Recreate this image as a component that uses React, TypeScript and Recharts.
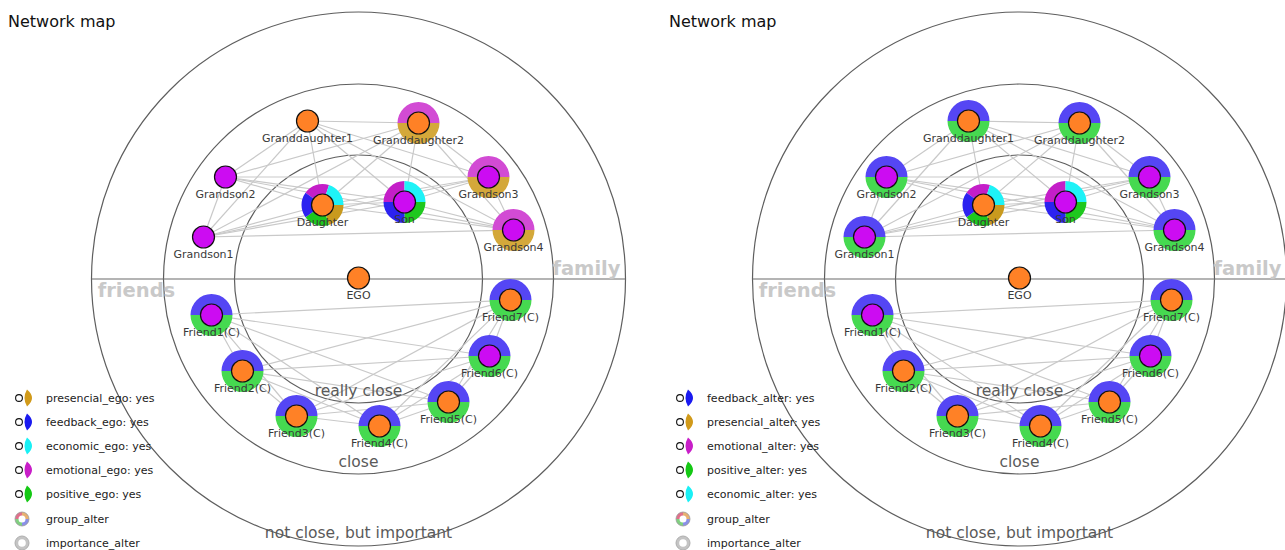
import React from 'react';
import { ScatterChart, Scatter, XAxis, YAxis } from 'recharts';

// map units: EGO at (0,0), y up
const CHART_W = 662;
const CHART_H = 550;
const X_DOMAIN: [number, number] = [-358.5, 303.5];
const Y_DOMAIN: [number, number] = [-271, 279];
const PX = CHART_W / (X_DOMAIN[1] - X_DOMAIN[0]);

const ORANGE = '#ff8126';
const PURPLE = '#cc0cf2';

const RING_BLUE = '#5546f4';
const RING_GREEN = '#46d950';
const RING_PINK = '#d24bd4';
const RING_GOLD = '#d4a83a';

const SEG_PINK = '#c41ec8';
const SEG_CYAN = '#1ef2f7';
const SEG_GOLD = '#c99a1e';
const SEG_GREEN = '#1ec81e';
const SEG_BLUE = '#2c22f0';

const nodeNames = ['EGO', 'Granddaughter1', 'Granddaughter2', 'Grandson2', 'Grandson3', 'Grandson1', 'Grandson4', 'Daughter', 'Son',
  'Friend1(C)', 'Friend2(C)', 'Friend3(C)', 'Friend4(C)', 'Friend5(C)', 'Friend6(C)', 'Friend7(C)'];
const nodeX = [0, -51, 60, -133, 130, -155, 155, -36, 46, -147, -116, -62, 21, 90, 131, 152];
const nodeY = [1, 158, 156, 102, 102, 42, 49, 74, 77, -36, -92, -137, -147, -123, -77, -21];
const nodeCore = [ORANGE, ORANGE, ORANGE, PURPLE, PURPLE, PURPLE, PURPLE, ORANGE, PURPLE,
  PURPLE, ORANGE, ORANGE, ORANGE, ORANGE, PURPLE, ORANGE];

const familyGroup = [1, 2, 3, 4, 5, 6, 7, 8];
const friendsGroup = [9, 10, 11, 12, 13, 14, 15];

const pinkGold = { start: -90, colors: [RING_PINK, RING_GOLD] };
const blueGreen = { start: -90, colors: [RING_BLUE, RING_GREEN] };
const daughterRing = { start: -54, colors: [SEG_PINK, SEG_CYAN, SEG_GOLD, SEG_GREEN, SEG_BLUE] };
const sonRing = { start: -90, colors: [SEG_PINK, SEG_CYAN, SEG_GREEN, SEG_BLUE] };

const leftRings = [null, null, pinkGold, null, pinkGold, null, pinkGold, daughterRing, sonRing,
  blueGreen, blueGreen, blueGreen, blueGreen, blueGreen, blueGreen, blueGreen];
const rightRings = [null, blueGreen, blueGreen, blueGreen, blueGreen, blueGreen, blueGreen, daughterRing, sonRing,
  blueGreen, blueGreen, blueGreen, blueGreen, blueGreen, blueGreen, blueGreen];

const ringRadii = [124, 195, 267];
const ringLabels = ['really close', 'close', 'not close, but important'];
const ringLabelY = [-112, -183, -254];

const zoneLabels = ['family', 'friends'];
const zoneX = [228, -222];
const zoneY = [11, -11];

const leftLegend = [
  { label: 'presencial_ego: yes', color: '#d19a1a' },
  { label: 'feedback_ego: yes', color: '#1a1af0' },
  { label: 'economic_ego: yes', color: '#19f0f5' },
  { label: 'emotional_ego: yes', color: '#c81ec8' },
  { label: 'positive_ego: yes', color: '#14c814' },
];
const rightLegend = [
  { label: 'feedback_alter: yes', color: '#1a1af0' },
  { label: 'presencial_alter: yes', color: '#d19a1a' },
  { label: 'emotional_alter: yes', color: '#c81ec8' },
  { label: 'positive_alter: yes', color: '#14c814' },
  { label: 'economic_alter: yes', color: '#19f0f5' },
];

const FONT = '"DejaVu Sans", sans-serif';

function pt(cx: number, cy: number, r: number, a: number) {
  const rad = (a * Math.PI) / 180;
  return [cx + r * Math.sin(rad), cy - r * Math.cos(rad)];
}

function arcPath(cx: number, cy: number, r0: number, r1: number, a0: number, a1: number) {
  const [x1, y1] = pt(cx, cy, r1, a0);
  const [x2, y2] = pt(cx, cy, r1, a1);
  const [x3, y3] = pt(cx, cy, r0, a1);
  const [x4, y4] = pt(cx, cy, r0, a0);
  const large = a1 - a0 > 180 ? 1 : 0;
  return `M${x1},${y1} A${r1},${r1} 0 ${large} 1 ${x2},${y2} L${x3},${y3} A${r0},${r0} 0 ${large} 0 ${x4},${y4} Z`;
}

const NodeShape = (props: any) => {
  const { cx, cy, payload } = props;
  const ring = payload.ring;
  return (
    <g>
      {ring &&
        ring.colors.map((c: string, i: number) => {
          const span = 360 / ring.colors.length;
          const a0 = ring.start + i * span;
          return <path key={i} d={arcPath(cx, cy, 9, 21, a0, a0 + span)} fill={c} />;
        })}
      <circle cx={cx} cy={cy} r={11} fill={payload.core} stroke="#111" strokeWidth={1.2} />
      <text x={cx} y={cy + 17.5} textAnchor="middle" dominantBaseline="central" fontSize={11} fill="#3a3a3a" fontFamily={FONT}>
        {payload.name}
      </text>
    </g>
  );
};

const RingShape = (props: any) => {
  const { cx, cy, payload } = props;
  return <circle cx={cx} cy={cy} r={payload.r * PX} fill="none" stroke="#5e5e5e" strokeWidth={1.2} />;
};

const RingLabelShape = (props: any) => {
  const { cx, cy, payload } = props;
  return (
    <text x={cx} y={cy} textAnchor="middle" dominantBaseline="central" fontSize={15.5} fill="#5a5a5a" fontFamily={FONT}>
      {payload.label}
    </text>
  );
};

const ZoneLabelShape = (props: any) => {
  const { cx, cy, payload } = props;
  return (
    <text x={cx} y={cy} textAnchor="middle" dominantBaseline="central" fontSize={19.5} fontWeight="bold" fill="#c9c9c9" fontFamily={FONT}>
      {payload.label}
    </text>
  );
};

const NoShape = () => <g />;

function buildEdges() {
  const out: { key: string; pts: { x: number; y: number }[] }[] = [];
  [familyGroup, friendsGroup].forEach((g) => {
    for (let i = 0; i < g.length; i++) {
      for (let j = i + 1; j < g.length; j++) {
        const a = g[i];
        const b = g[j];
        out.push({ key: `${a}-${b}`, pts: [{ x: nodeX[a], y: nodeY[a] }, { x: nodeX[b], y: nodeY[b] }] });
      }
    }
  });
  return out;
}

function Legend({ items }: { items: { label: string; color: string }[] }) {
  const rows = items.map((it, i) => ({ ...it, y: 398 + i * 24 }));
  return (
    <svg width={220} height={CHART_H} style={{ position: 'absolute', left: 0, top: 0, pointerEvents: 'none' }}>
      <text x={8} y={27} fontSize={16} fill="#111" fontFamily={FONT}>Network map</text>
      {rows.map((r) => (
        <g key={r.label}>
          <path d={`M27,${r.y - 8.5} Q37,${r.y} 27,${r.y + 8.5} Q22,${r.y} 27,${r.y - 8.5} Z`} fill={r.color} />
          <circle cx={19} cy={r.y} r={3.4} fill="#fff" stroke="#111" strokeWidth={1.1} />
          <text x={46} y={r.y} dominantBaseline="central" fontSize={11} fill="#222" fontFamily={FONT}>{r.label}</text>
        </g>
      ))}
      <g>
        <path d={arcPath(22, 519, 3.5, 7, -90, 0)} fill="#e0708a" />
        <path d={arcPath(22, 519, 3.5, 7, 0, 90)} fill="#e8b070" />
        <path d={arcPath(22, 519, 3.5, 7, 90, 180)} fill="#8a90e8" />
        <path d={arcPath(22, 519, 3.5, 7, 180, 270)} fill="#80d080" />
        <circle cx={22} cy={519} r={7} fill="none" stroke="#999" strokeWidth={0.8} />
        <text x={46} y={519} dominantBaseline="central" fontSize={11} fill="#222" fontFamily={FONT}>group_alter</text>
      </g>
      <g>
        <circle cx={22} cy={543} r={5.3} fill="none" stroke="#c4c4c4" strokeWidth={3} />
        <circle cx={22} cy={543} r={7} fill="none" stroke="#999" strokeWidth={0.8} />
        <text x={46} y={543} dominantBaseline="central" fontSize={11} fill="#222" fontFamily={FONT}>importance_alter</text>
      </g>
    </svg>
  );
}

function Panel({ rings, legend, left }: { rings: any[]; legend: { label: string; color: string }[]; left: number }) {
  const nodes = nodeNames.map((name, i) => ({ name, x: nodeX[i], y: nodeY[i], core: nodeCore[i], ring: rings[i] }));
  const ringData = ringRadii.map((r) => ({ x: 0, y: 0, r }));
  const ringLabelData = ringLabels.map((label, i) => ({ x: 0, y: ringLabelY[i], label }));
  const zoneData = zoneLabels.map((label, i) => ({ x: zoneX[i], y: zoneY[i], label }));
  const divider = [{ x: -ringRadii[2], y: 0 }, { x: ringRadii[2], y: 0 }];
  const edges = buildEdges();

  return (
    <div style={{ position: 'absolute', left, top: 0, width: CHART_W, height: CHART_H }}>
      <ScatterChart width={CHART_W} height={CHART_H} margin={{ top: 0, right: 0, bottom: 0, left: 0 }}>
        <XAxis type="number" dataKey="x" domain={X_DOMAIN} allowDataOverflow hide height={0} />
        <YAxis type="number" dataKey="y" domain={Y_DOMAIN} allowDataOverflow hide width={0} />
        <Scatter data={ringData} shape={RingShape} isAnimationActive={false} />
        <Scatter data={divider} shape={NoShape} line={{ stroke: '#6a6a6a', strokeWidth: 1.2 }} isAnimationActive={false} />
        <Scatter data={zoneData} shape={ZoneLabelShape} isAnimationActive={false} />
        {edges.map((e) => (
          <Scatter key={e.key} data={e.pts} shape={NoShape} line={{ stroke: '#c9c9c9', strokeWidth: 1.2 }} isAnimationActive={false} />
        ))}
        <Scatter data={ringLabelData} shape={RingLabelShape} isAnimationActive={false} />
        <Scatter data={nodes} shape={NodeShape} isAnimationActive={false} />
      </ScatterChart>
      <Legend items={legend} />
    </div>
  );
}

export default function App() {
  return (
    <div style={{ position: 'absolute', left: 0, top: 0, width: 1285, height: 550, overflow: 'hidden', background: '#fff' }}>
      <Panel rings={leftRings} legend={leftLegend} left={0} />
      <Panel rings={rightRings} legend={rightLegend} left={661} />
    </div>
  );
}
